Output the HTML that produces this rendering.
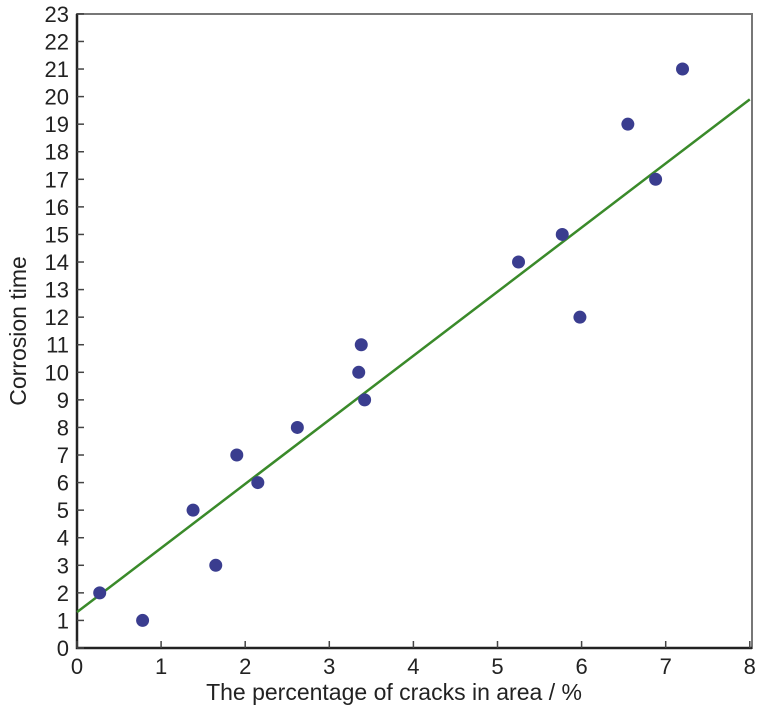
<!DOCTYPE html>
<html><head><meta charset="utf-8"><style>
body{margin:0;background:#fff;width:768px;height:711px;overflow:hidden}
text{font-family:"Liberation Sans",sans-serif;fill:#222}
</style></head><body>
<svg id="chart" width="768" height="711" xmlns="http://www.w3.org/2000/svg">
<rect x="77" y="14" width="675" height="634" fill="none" stroke="#777" stroke-width="2"/>
<g id="ticks"></g><g id="marks"></g>
<text x="394" y="700" font-size="23" text-anchor="middle">The percentage of cracks in area / %</text>
<text transform="translate(26,331) rotate(-90)" font-size="23" text-anchor="middle">Corrosion time</text>
</svg>
<script>
const xVals=[0.27,0.78,1.38,1.65,1.9,2.15,2.62,3.35,3.38,3.42,5.25,5.77,5.98,6.55,6.88,7.2];
const yVals=[2,1,5,3,7,6,8,10,11,9,14,15,12,19,17,21];
const fitX=[0,8];
const fitY=[1.3,19.9];
const xTicks=[0,1,2,3,4,5,6,7,8];
const yTicks=[0,1,2,3,4,5,6,7,8,9,10,11,12,13,14,15,16,17,18,19,20,21,22,23];
const X=v=>77+v*84.1, Y=v=>648-v*27.57;
const NS="http://www.w3.org/2000/svg";
const tk=document.getElementById('ticks'), mk=document.getElementById('marks');
function mk_(tag,attrs,parent){const e=document.createElementNS(NS,tag);for(const k in attrs)e.setAttribute(k,attrs[k]);parent.appendChild(e);return e;}
const ax=mk_('path',{d:`M77,14 L77,648 L752,648`,stroke:'#222','stroke-width':2.5,fill:'none'},tk);


xTicks.forEach(t=>{
 const l=mk_('line',{x1:X(t),x2:X(t),y1:648,y2:641,stroke:'#444','stroke-width':1.5},tk);
 
 
 const s=mk_('text',{x:X(t),y:674,'font-size':22,'text-anchor':'middle'},tk);s.textContent=t;
 
 
});
yTicks.forEach(t=>{
 const l=mk_('line',{x1:77,x2:84,y1:Y(t),y2:Y(t),stroke:'#444','stroke-width':1.5},tk);
 
 
 const s=mk_('text',{x:69,y:Y(t)+8,'font-size':22,'text-anchor':'end'},tk);s.textContent=t;
 
 
});
const fl=mk_('line',{x1:X(fitX[0]),y1:Y(fitY[0]),x2:X(fitX[1]),y2:Y(fitY[1]),stroke:'#3a8a2a','stroke-width':2.5},mk);


xVals.forEach((v,i)=>{
 const c=mk_('circle',{cx:X(v),cy:Y(yVals[i]),r:6.5,fill:'#3a3d8f'},mk);
 
 
});
</script>
</body></html>
